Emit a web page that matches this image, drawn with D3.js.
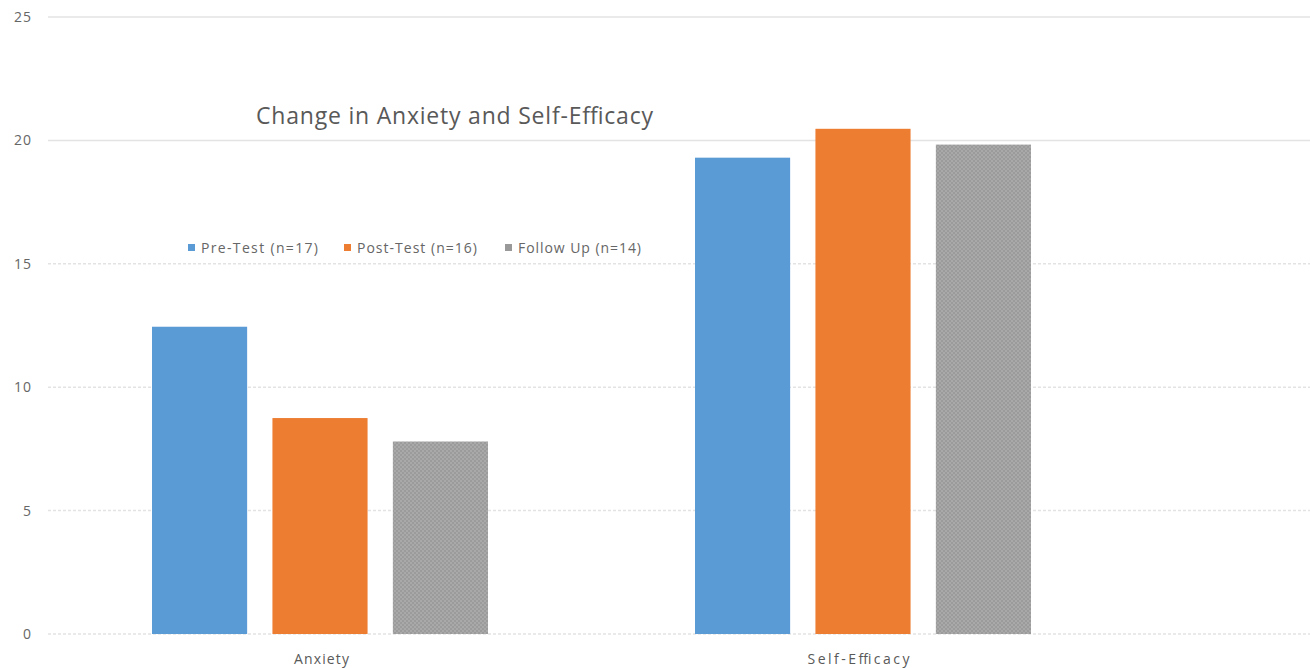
<!DOCTYPE html>
<meta charset="utf-8">
<style>
body { margin: 0; background: #fff; }
text { font-family: "Open Sans", "Noto Sans", sans-serif; }
.tick-label { font-size: 14px; fill: #666; letter-spacing: 1px; }
.cat-label { font-size: 14px; fill: #595959; }
.legend text { font-size: 14px; fill: #666; }
.title { font-size: 23px; fill: #595959; }
</style>
<div id="chart"></div>
<script src="https://d3js.org/d3.v7.min.js"></script>
<script>
var categories = ["Anxiety", "Self-Efficacy"];
var seriesNames = ["Pre-Test (n=17)", "Post-Test (n=16)", "Follow Up (n=14)"];
var preTest = [12.45, 19.3];
var postTest = [8.75, 20.47];
var followUp = [7.8, 19.83];
var yTicks = [0, 5, 10, 15, 20, 25];

var w = 1310, h = 668,
  plotLeft = 50, plotRight = 1310, plotTop = 17, plotBottom = 634;

var seriesValues = [preTest, postTest, followUp];
var colors = ["#5b9bd5", "#ed7d31", "url(#grayPat)"];
var legendColors = ["#5b9bd5", "#ed7d31", "#999"];

var svg = d3.select("#chart").append("svg")
  .attr("width", w).attr("height", h);

// dotted gray fill for follow up
var pat = svg.append("defs").append("pattern")
  .attr("id", "grayPat").attr("patternUnits", "userSpaceOnUse")
  .attr("width", 4).attr("height", 4);
pat.append("rect").attr("width", 4).attr("height", 4).attr("fill", "#a9a9a9");
pat.append("rect").attr("x", 0).attr("y", 0).attr("width", 2).attr("height", 2).attr("fill", "#9b9b9b");
pat.append("rect").attr("x", 2).attr("y", 2).attr("width", 2).attr("height", 2).attr("fill", "#9b9b9b");

var y = d3.scaleLinear().domain([0, 25]).range([plotBottom, plotTop]);
var x0 = d3.scaleBand().domain(categories).range([plotLeft, 1136]);
var x1 = d3.scaleBand().domain(d3.range(3)).range([102, 438]).paddingInner(0.21);

// gridlines
svg.append("g").selectAll("line")
  .data(yTicks).enter().append("line")
  .attr("x1", 48).attr("x2", plotRight)
  .attr("y1", function (d) { return y(d); })
  .attr("y2", function (d) { return y(d); })
  .attr("stroke", "#e3e3e3")
  .attr("stroke-width", 1.5)
  .attr("stroke-dasharray", function (d) { return d >= 20 ? null : "3,2"; });

svg.append("g").selectAll("text")
  .data(yTicks).enter().append("text")
  .attr("class", "tick-label")
  .attr("x", 32).attr("text-anchor", "end")
  .attr("y", function (d) { return y(d) + 5; })
  .text(function (d) { return d; });

// bars
categories.forEach(function (c, ci) {
  var g = svg.append("g").attr("transform", "translate(" + x0(c) + ",0)");
  g.selectAll("rect")
    .data(seriesValues.map(function (s) { return s[ci]; }))
    .enter().append("rect")
    .attr("x", function (d, i) { return x1(i); })
    .attr("width", x1.bandwidth())
    .attr("y", function (d) { return y(d); })
    .attr("height", function (d) { return plotBottom - y(d); })
    .attr("fill", function (d, i) { return colors[i]; });
});

// category labels
var catWidths = [55, 102];
svg.append("g").selectAll("text")
  .data(categories).enter().append("text")
  .attr("class", "cat-label")
  .attr("x", function (d, i) { return x0(d) + x0.bandwidth() / 2 - catWidths[i] / 2 - i * 6; })
  .attr("y", 664)
  .attr("textLength", function (d, i) { return catWidths[i]; })
  .attr("lengthAdjust", "spacing")
  .text(function (d) { return d; });

// title
svg.append("text").attr("class", "title")
  .attr("x", 256).attr("y", 124)
  .attr("textLength", 397).attr("lengthAdjust", "spacing")
  .text("Change in Anxiety and Self-Efficacy");

// legend
var legX = [188, 344, 505];
var legW = [117, 120, 123];
var leg = svg.append("g").attr("class", "legend");
seriesNames.forEach(function (n, i) {
  leg.append("rect").attr("x", legX[i]).attr("y", 244)
    .attr("width", 7).attr("height", 7).attr("fill", legendColors[i]);
  leg.append("text").attr("x", legX[i] + 13).attr("y", 253)
    .attr("textLength", legW[i]).attr("lengthAdjust", "spacing")
    .text(n);
});
</script>
